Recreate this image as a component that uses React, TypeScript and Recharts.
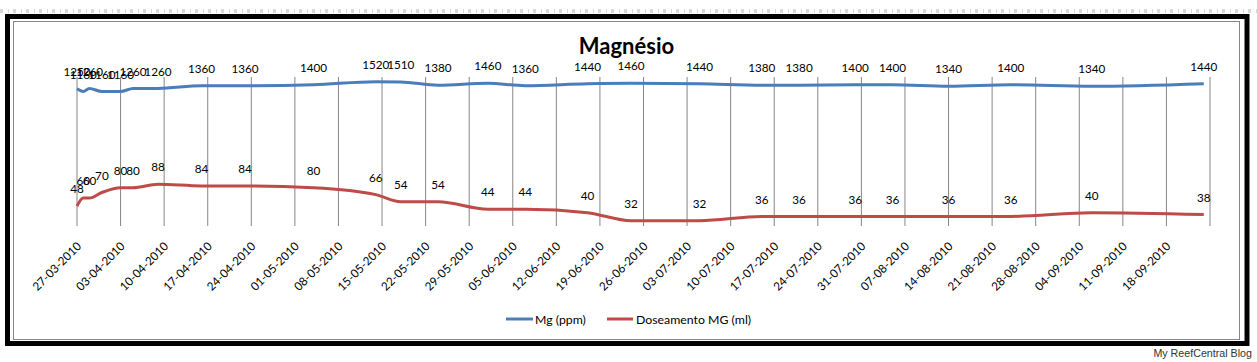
import React from 'react';
import { LineChart, Line, XAxis, YAxis, CartesianGrid, LabelList } from 'recharts';

// ---------- data ----------
const pointDates = [
  '27-03-2010', '28-03-2010', '29-03-2010', '31-03-2010', '03-04-2010', '05-04-2010', '09-04-2010',
  '16-04-2010', '23-04-2010', '04-05-2010', '14-05-2010', '18-05-2010', '24-05-2010', '01-06-2010',
  '07-06-2010', '17-06-2010', '24-06-2010', '05-07-2010', '15-07-2010', '21-07-2010', '30-07-2010',
  '05-08-2010', '14-08-2010', '24-08-2010', '06-09-2010', '24-09-2010',
];
const mgValues = [
  1250, 1160, 1260, 1160, 1160, 1260, 1260,
  1360, 1360, 1400, 1520, 1510, 1380, 1460,
  1360, 1440, 1460, 1440, 1380, 1380, 1400,
  1400, 1340, 1400, 1340, 1440,
];
const doseValues = [
  48, 60, 60, 70, 80, 80, 88,
  84, 84, 80, 66, 54, 54, 44,
  44, 40, 32, 32, 36, 36, 36,
  36, 36, 36, 40, 38,
];
const tickLabels = [
  '27-03-2010', '03-04-2010', '10-04-2010', '17-04-2010', '24-04-2010', '01-05-2010', '08-05-2010',
  '15-05-2010', '22-05-2010', '29-05-2010', '05-06-2010', '12-06-2010', '19-06-2010', '26-06-2010',
  '03-07-2010', '10-07-2010', '17-07-2010', '24-07-2010', '31-07-2010', '07-08-2010', '14-08-2010',
  '21-08-2010', '28-08-2010', '04-09-2010', '11-09-2010', '18-09-2010',
];
const axisEndDate = '25-09-2010';
const seriesNames = ['Mg (ppm)', 'Doseamento MG (ml)'];
const title = 'Magnésio';
const watermark = 'My ReefCentral Blog';

// ---------- helpers ----------
const toDay = (s: string) => {
  const [d, m, y] = s.split('-').map(Number);
  return Date.UTC(y, m - 1, d) / 86400000;
};
const baseDay = toDay(tickLabels[0]);
const data = pointDates.map((s, i) => ({ day: toDay(s) - baseDay, mg: mgValues[i], dose: doseValues[i] }));
const ticks = [...tickLabels, axisEndDate].map((s) => toDay(s) - baseDay);
const labelByDay = new Map<number, string>(tickLabels.map((s) => [toDay(s) - baseDay, s]));

const FONT = "Lato, 'Open Sans', sans-serif";
const BLUE = '#4A7EBB';
const RED = '#BE4B48';
const PLOT_BOTTOM = 226;

const renderDateTick = (props: any) => {
  const { x, payload } = props;
  const label = labelByDay.get(Number(payload.value)) || '';
  return (
    <g transform={`translate(${x + 5},${PLOT_BOTTOM + 21})`}>
      <text transform="rotate(-45)" textAnchor="end" fontSize={11.7} fontFamily={FONT} fill="#000">
        {label}
      </text>
    </g>
  );
};

const PointLabel = (props: any) => {
  const { x, y, value } = props;
  return (
    <text x={x} y={y - 12.8} textAnchor="middle" fontSize={11.7} fontFamily={FONT} fill="#000">
      {value}
    </text>
  );
};

export default function App() {
  return (
    <div style={{ position: 'absolute', left: 0, top: 0, width: 1257, height: 362, background: '#fff' }}>
      <svg width={1257} height={362} style={{ position: 'absolute', left: 0, top: 0 }}>
        <rect x={13.5} y={21.5} width={1226} height={318} fill="#fff" stroke="#868686" strokeWidth={1} />
        <line x1={0} y1={11} x2={1257} y2={11} stroke="#d8d8d8" strokeWidth={4} strokeDasharray="3 5 1 4" />
        <rect x={7.5} y={16.5} width={1239.5} height={327} fill="none" stroke="#000" strokeWidth={5} />
        <text x={626.5} y={54} textAnchor="middle" fontSize={22} fontWeight="bold" fontFamily={FONT} fill="#000">
          {title}
        </text>
        <g fontFamily={FONT} fontSize={12.3} fill="#000">
          <line x1={506} y1={319} x2={533} y2={319} stroke={BLUE} strokeWidth={3} />
          <text x={535} y={323.5}>{seriesNames[0]}</text>
          <line x1={607} y1={319} x2={633} y2={319} stroke={RED} strokeWidth={3} />
          <text x={636} y={323.5}>{seriesNames[1]}</text>
        </g>
        <text x={1252} y={357} textAnchor="end" fontSize={10.7} fontFamily="'Liberation Sans', Arial, sans-serif" fill="#333">
          {watermark}
        </text>
      </svg>
      <div style={{ position: 'absolute', left: 0, top: 0 }}>
        <LineChart width={1257} height={362} data={data} margin={{ top: 77, right: 47, bottom: 76, left: 77 }}>
          <CartesianGrid horizontal={false} vertical stroke="#868686" strokeWidth={1} />
          <XAxis
            dataKey="day"
            type="number"
            domain={[ticks[0], ticks[ticks.length - 1]]}
            ticks={ticks}
            interval={0}
            axisLine={false}
            tickLine={false}
            tickMargin={0}
            height={60}
            tick={renderDateTick}
          />
          <YAxis hide width={0} scale="log" domain={[27.6, 1734]} allowDataOverflow />
          <Line type="monotone" dataKey="mg" stroke={BLUE} strokeWidth={3} dot={false} isAnimationActive={false}>
            <LabelList dataKey="mg" content={<PointLabel />} />
          </Line>
          <Line type="monotone" dataKey="dose" stroke={RED} strokeWidth={3} dot={false} isAnimationActive={false}>
            <LabelList dataKey="dose" content={<PointLabel />} />
          </Line>
        </LineChart>
      </div>
    </div>
  );
}
